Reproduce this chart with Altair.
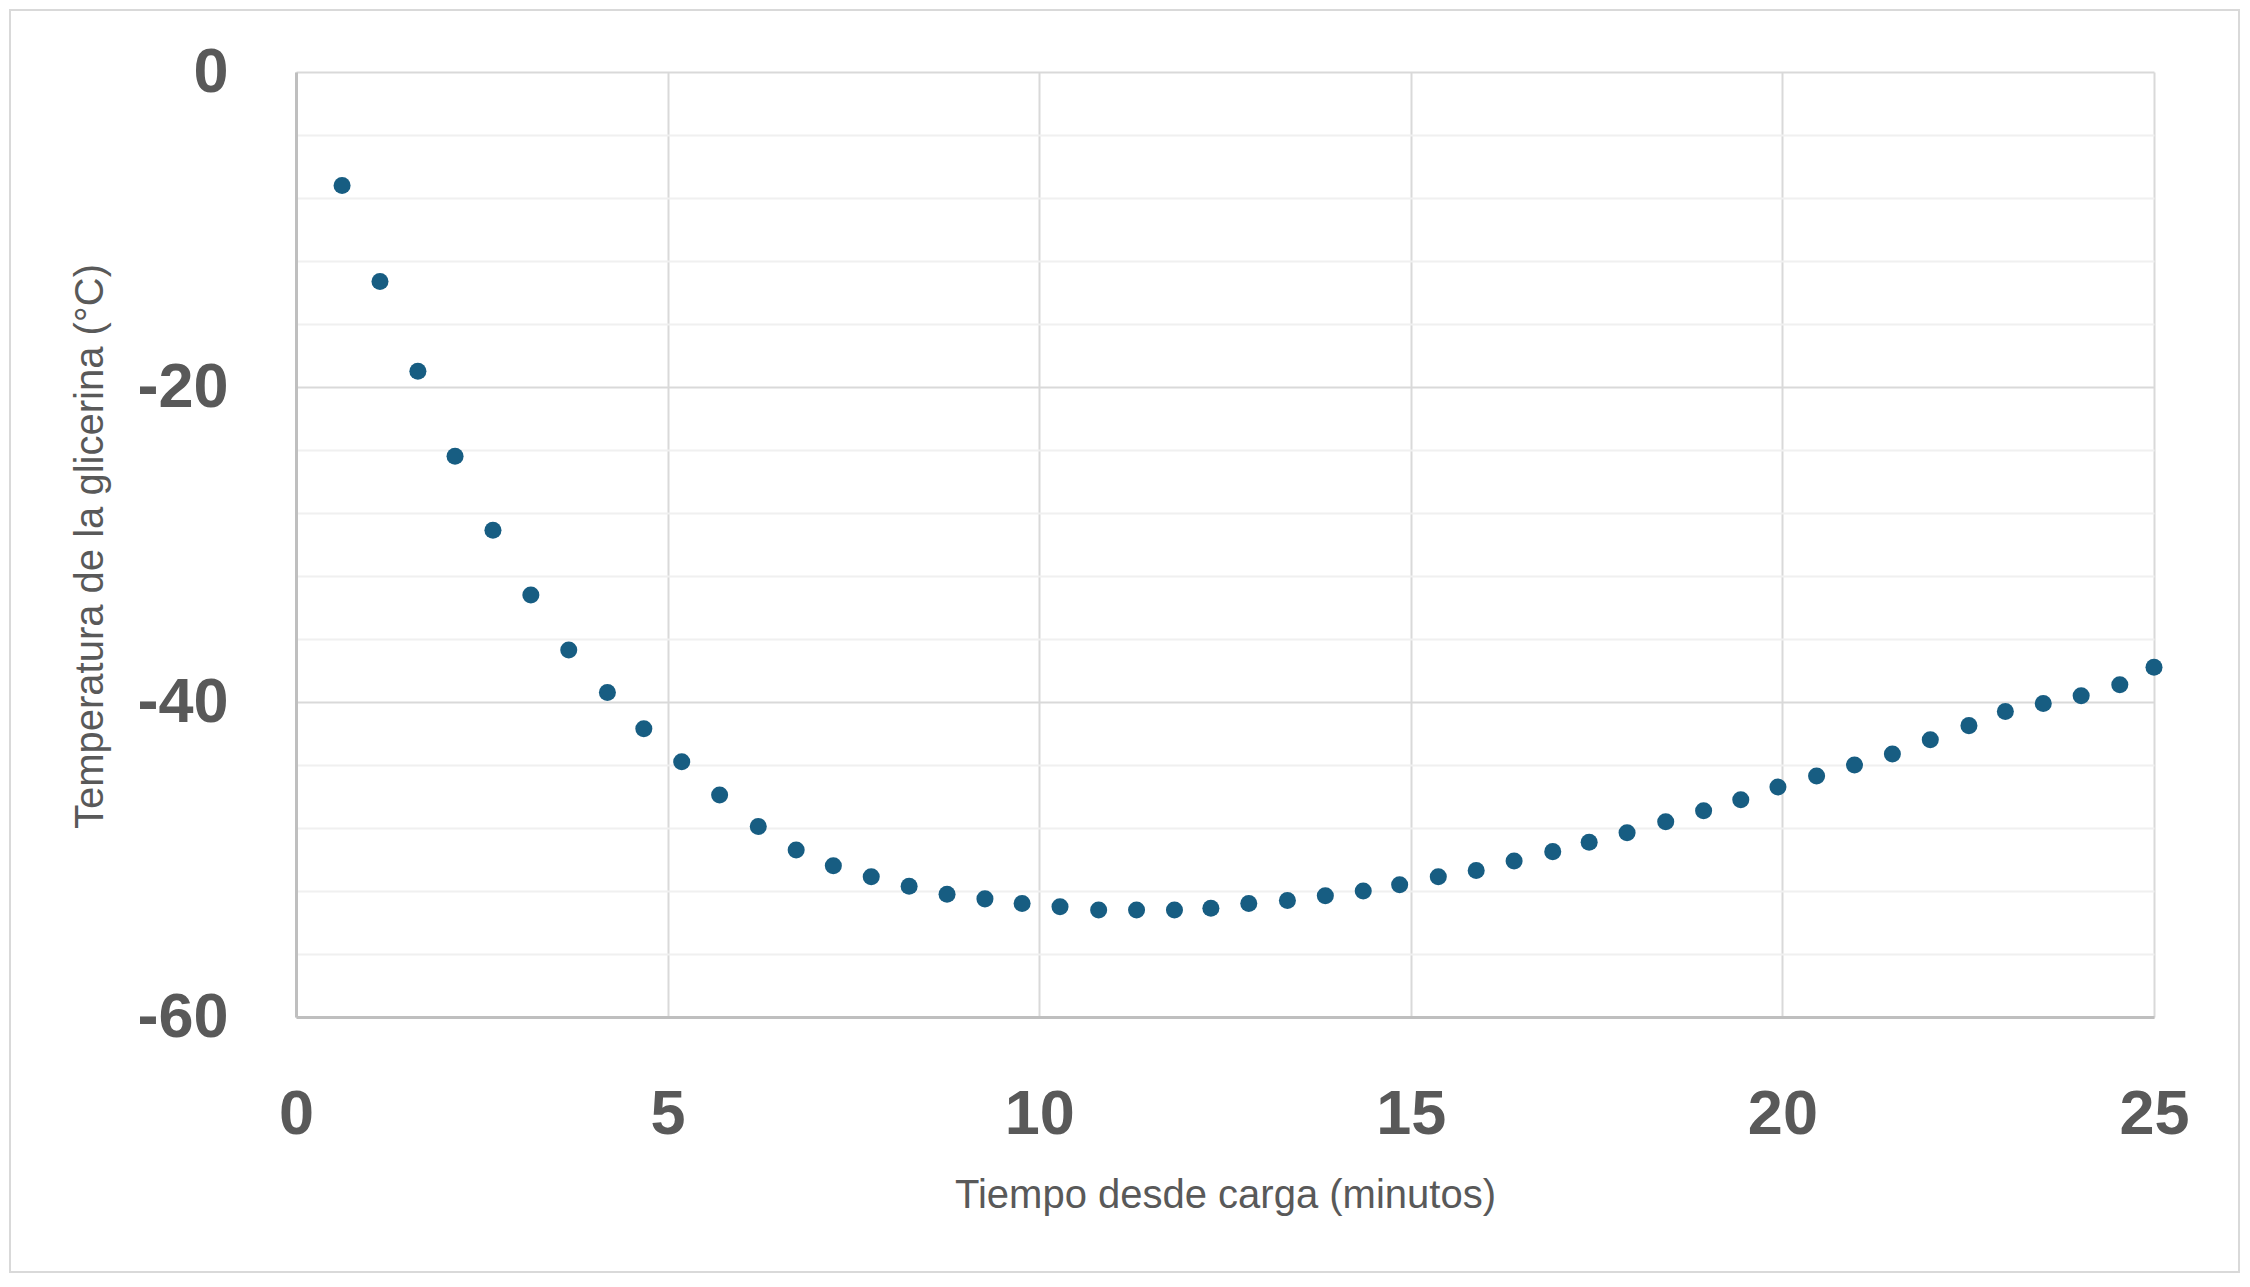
import altair as alt
import pandas as pd

# Data
tiempo_min = [0.62, 1.13, 1.64, 2.14, 2.65, 3.16, 3.67, 4.19, 4.68, 5.19,
              5.70, 6.22, 6.73, 7.23, 7.74, 8.25, 8.76, 9.27, 9.77, 10.28,
              10.80, 11.31, 11.82, 12.31, 12.82, 13.34, 13.85, 14.36, 14.85, 15.37,
              15.88, 16.39, 16.91, 17.40, 17.91, 18.43, 18.94, 19.44, 19.94, 20.46,
              20.97, 21.48, 21.99, 22.51, 23.00, 23.51, 24.02, 24.54, 25.00]
temperatura_c = [-7.2, -13.3, -19.0, -24.4, -29.1, -33.2, -36.7, -39.4, -41.7, -43.8,
                 -45.9, -47.9, -49.4, -50.4, -51.1, -51.7, -52.2, -52.5, -52.8, -53.0,
                 -53.2, -53.2, -53.2, -53.1, -52.8, -52.6, -52.3, -52.0, -51.6, -51.1,
                 -50.7, -50.1, -49.5, -48.9, -48.3, -47.6, -46.9, -46.2, -45.4, -44.7,
                 -44.0, -43.3, -42.4, -41.5, -40.6, -40.1, -39.6, -38.9, -37.8]
x_ticks = [0, 5, 10, 15, 20, 25]
y_ticks = list(range(-60, 1, 4))  # gridlines every 4, labels every 20

df = pd.DataFrame({"t": tiempo_min, "temp": temperatura_c})

W, H = 1858, 945
PAD = {"left": 288, "top": 64, "right": 88, "bottom": 258}

GREY_TXT = "#595959"

points = alt.Chart(df).mark_circle(size=290, color="#175d82", opacity=1, clip=False).encode(
    x=alt.X("t:Q",
            scale=alt.Scale(domain=[0, 25], nice=False, zero=False),
            axis=alt.Axis(values=x_ticks, title="Tiempo desde carga (minutos)",
                          labelFont="Liberation Sans", labelFontWeight="bold",
                          labelFontSize=63, labelColor=GREY_TXT, labelPadding=66,
                          labelFlush=False, labelOverlap=False,
                          titleFont="Liberation Sans", titleFontWeight="normal",
                          titleFontSize=40, titleColor=GREY_TXT,
                          titleY=178, titleBaseline="middle",
                          ticks=False, grid=True, gridColor="#d9d9d9", gridWidth=2,
                          domainColor="#bfbfbf", domainWidth=3)),
    y=alt.Y("temp:Q",
            scale=alt.Scale(domain=[-60, 0], nice=False, zero=False),
            axis=alt.Axis(values=y_ticks, title="Temperatura de la glicerina (°C)",
                          labelExpr="datum.value % 20 === 0 ? replace(datum.label, '−', '-') : ''",
                          labelFont="Liberation Sans", labelFontWeight="bold",
                          labelFontSize=63, labelColor=GREY_TXT, labelPadding=68,
                          labelFlush=False, labelOverlap=False,
                          titleFont="Liberation Sans", titleFontWeight="normal",
                          titleFontSize=40, titleColor=GREY_TXT,
                          titleX=-206, titleY=474, titleAngle=-90,
                          titleBaseline="middle", titleAlign="center",
                          ticks=False, grid=True,
                          gridColor={"condition": {"test": "datum.value % 20 === 0", "value": "#d9d9d9"},
                                     "value": "#f0f0f0"},
                          gridWidth=2,
                          domainColor="#bfbfbf", domainWidth=3)),
)

border = alt.Chart(pd.DataFrame({"k": [0]})).mark_rect(
    fill=None, stroke="#d9d9d9", strokeWidth=2, clip=False
).encode(
    x=alt.value(-286), x2=alt.value(W + PAD["right"] - 3),
    y=alt.value(-62), y2=alt.value(H + PAD["bottom"] - 3),
)

chart = alt.layer(border, points).properties(
    width=W, height=H,
    autosize=alt.AutoSizeParams(type="none"),
    padding=PAD,
    background="white",
).configure_view(stroke=None)

chart.save("out.html", embed_options={"renderer": "svg", "actions": False})
